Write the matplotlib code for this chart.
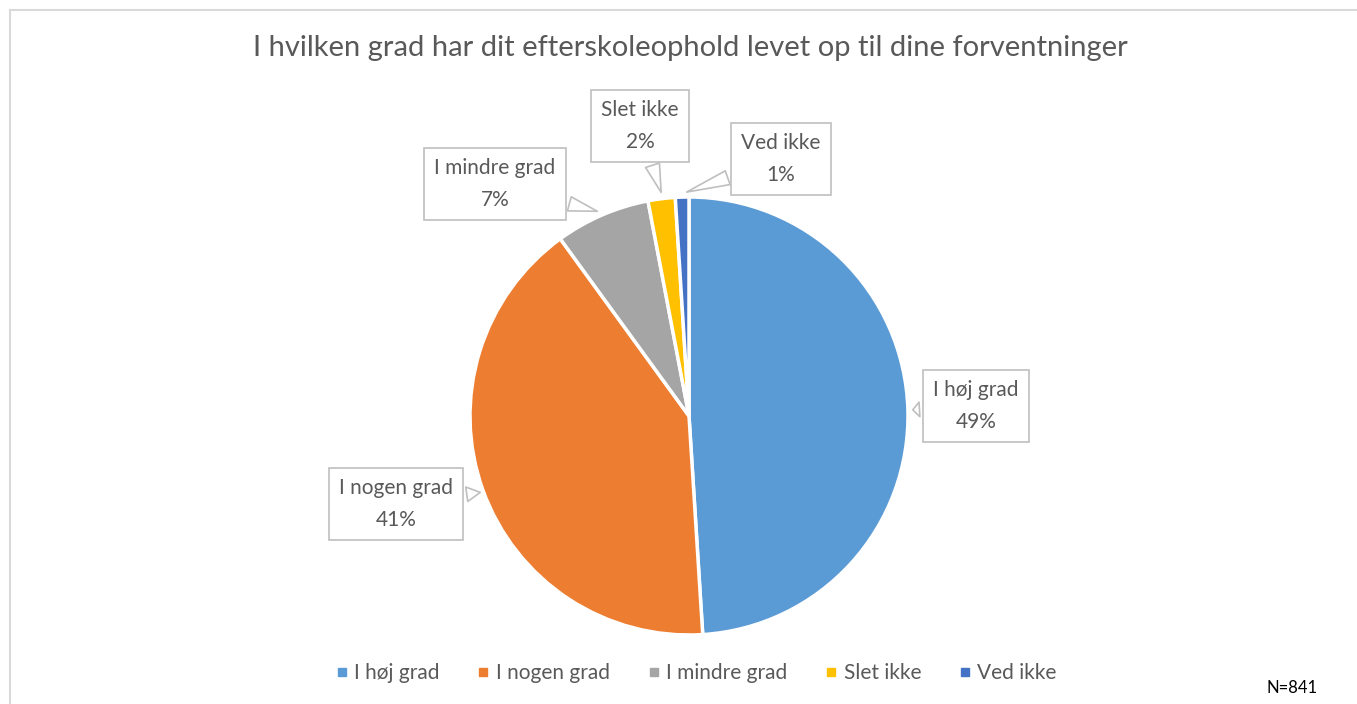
import matplotlib
matplotlib.use('Agg')
import matplotlib.pyplot as plt
from matplotlib.lines import Line2D
from matplotlib.patches import Rectangle

# data
categories = ['I høj grad', 'I nogen grad', 'I mindre grad', 'Slet ikke', 'Ved ikke']
shares = [49, 41, 7, 2, 1]
colors = ['#5B9BD5', '#ED7D31', '#A5A5A5', '#FFC000', '#4472C4']
title = 'I hvilken grad har dit efterskoleophold levet op til dine forventninger'
note = 'N=841'

# callout box centres and pointer tips, in pixels from the top left
box_pos = [(976, 407), (396, 505), (495, 185), (640, 127), (781, 160)]
tip_pos = [(910, 410), (483, 492), (600, 212), (662, 195), (684, 193)]

W, H = 1357, 704
plt.rcParams['font.family'] = ['Lato', 'DejaVu Sans']
txt = '#595959'

fig = plt.figure(figsize=(W / 100, H / 100), dpi=100)
ax = fig.add_axes([0, 0, 1, 1])

ax.pie(shares, colors=colors, startangle=90, counterclock=False,
       center=(689, H - 416), radius=219,
       wedgeprops=dict(edgecolor='white', linewidth=2.5))
ax.set_xlim(0, W)
ax.set_ylim(0, H)
ax.set_aspect('equal')
ax.axis('off')

# chart border
ax.add_patch(Rectangle((10, -20), W + 20, H - 10 + 20, fill=False,
                       edgecolor='#d9d9d9', linewidth=1.5, clip_on=False))

for cat, val, (bx, by), (tx, ty) in zip(categories, shares, box_pos, tip_pos):
    ax.annotate('%s\n%d%%' % (cat, val), xy=(tx, H - ty), xytext=(bx, H - by + 1),
                ha='center', va='center', fontsize=15, color=txt,
                linespacing=1.7,
                bbox=dict(boxstyle='square,pad=0.5', fc='white', ec='#bfbfbf', lw=1.2),
                arrowprops=dict(arrowstyle='wedge,tail_width=0.7,shrink_factor=0.5',
                                fc='white', ec='#bfbfbf', lw=1.2))

ax.text(690, H - 48, title, ha='center', va='center', fontsize=21, color=txt)

handles = [Line2D([], [], marker='s', linestyle='none', markersize=6,
                  markerfacecolor=c, markeredgecolor=c) for c in colors]
fig.legend(handles, categories, loc='center', bbox_to_anchor=(694 / W, 1 - 673 / H),
           ncol=5, frameon=False, fontsize=15, labelcolor=txt,
           handletextpad=0.1, columnspacing=1.6, handlelength=1.0)

ax.text(1292, H - 688, note, ha='center', va='center', fontsize=12, color='black')

fig.savefig('out.png', dpi=100, facecolor='white')
